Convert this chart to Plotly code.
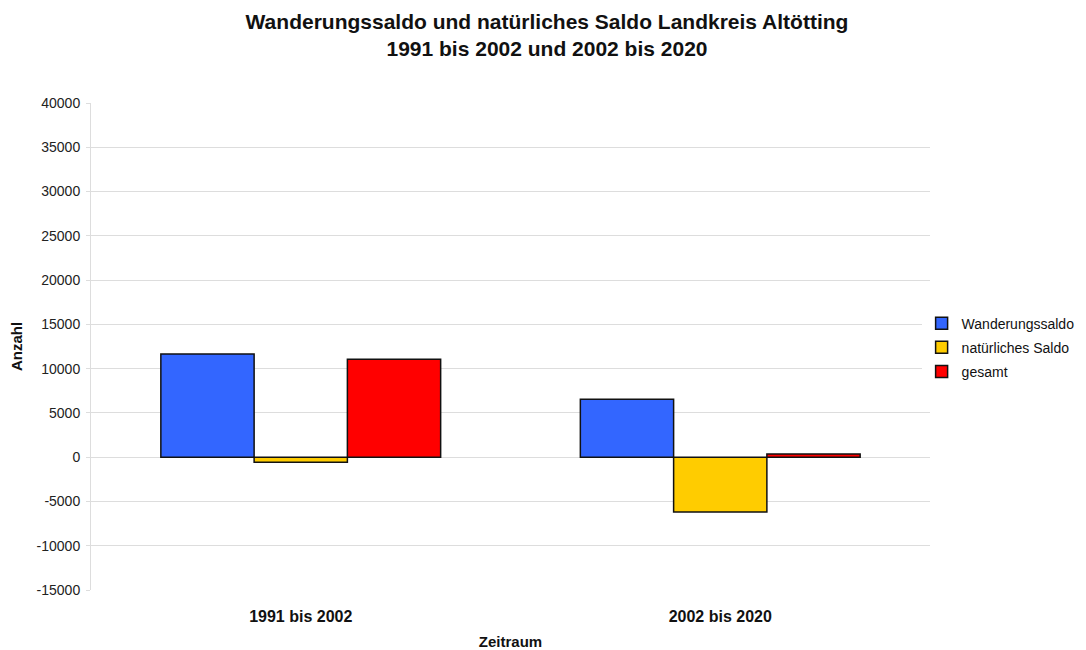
import plotly.graph_objects as go

# Zeiträume und Werte
zeitraum = ["1991 bis 2002", "2002 bis 2020"]
wanderungssaldo = [11650, 6550]
natuerliches_saldo = [-560, -6180]
gesamt = [11050, 370]

y_ticks = list(range(-15000, 40001, 5000))
y_ticktext = [str(v) for v in y_ticks]

farben = {"Wanderungssaldo": "#3366ff", "natürliches Saldo": "#ffcc00", "gesamt": "#ff0000"}

fig = go.Figure()
for name, werte in [("Wanderungssaldo", wanderungssaldo),
                    ("natürliches Saldo", natuerliches_saldo),
                    ("gesamt", gesamt)]:
    fig.add_trace(go.Bar(
        x=zeitraum, y=werte, name=name, legendgroup=name,
        marker=dict(color=farben[name], line=dict(color="#111111", width=1.5)),
    ))

# page body has an 8px margin, so the figure is a bit smaller than the window
fig.update_layout(
    width=1078, height=642,
    barmode="group", bargap=0.333, bargroupgap=0,
    paper_bgcolor="white", plot_bgcolor="white",
    font=dict(family="Liberation Sans, Arial, sans-serif", size=14, color="#111111"),
    margin=dict(l=83, r=156, t=95, b=60, autoexpand=False),
    title=dict(
        text="<b>Wanderungssaldo und natürliches Saldo Landkreis Altötting<br>1991 bis 2002 und 2002 bis 2020</b>",
        x=0.5, xref="container", y=0.968, yanchor="middle",
        font=dict(size=21, color="#111111"),
    ),
    legend=dict(
        x=0.99, y=0.58, xanchor="left", yanchor="top",
        font=dict(size=14, color="#111111"),
        itemwidth=30, tracegroupgap=3,
    ),
)

fig.update_yaxes(
    range=[-15000, 40000], tickvals=y_ticks, ticktext=y_ticktext,
    showgrid=True, gridcolor="#dddddd", gridwidth=1,
    zeroline=True, zerolinecolor="#dddddd", zerolinewidth=1,
    showline=True, linecolor="#dddddd",
    ticks="outside", ticklen=4, tickcolor="#dddddd",
    tickfont=dict(size=14, color="#222222"),
    ticklabelstandoff=3,
    automargin=False,
    title=dict(text="<b>Anzahl</b>", font=dict(size=15), standoff=20),
)
fig.update_xaxes(
    showgrid=False, showline=False,
    tickfont=dict(size=16, color="#111111"),
    tickprefix="<b>", ticksuffix="</b>",
    ticklabelstandoff=15,
    automargin=False,
    title=dict(text="<b>Zeitraum</b>", font=dict(size=15), standoff=12),
)

fig.write_html("out.html")
